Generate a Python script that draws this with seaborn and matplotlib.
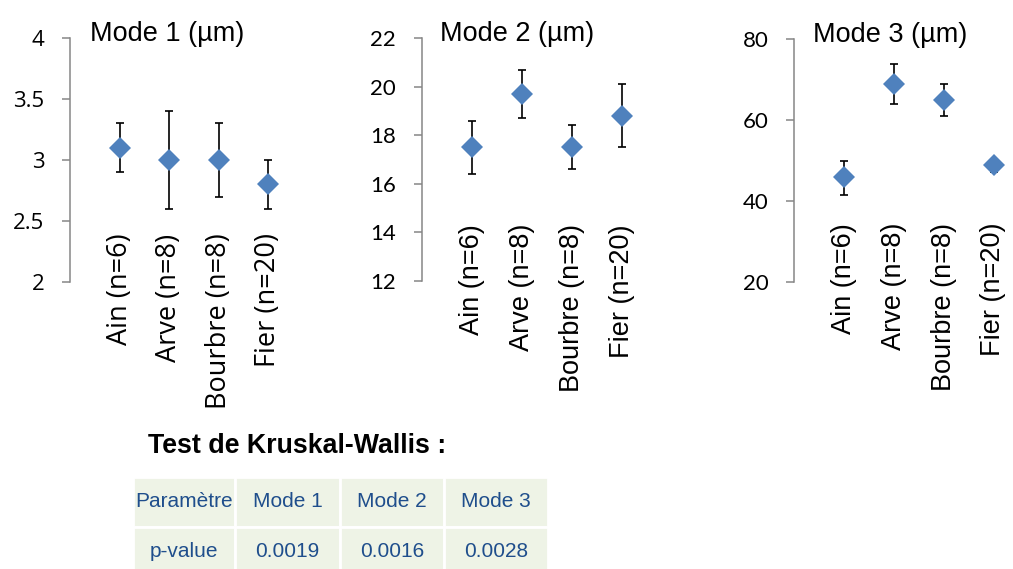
import matplotlib
matplotlib.use("Agg")
import matplotlib.pyplot as plt
import pandas as pd
import seaborn as sns

# --- data -------------------------------------------------------------
rivers = ["Ain (n=6)", "Arve (n=8)", "Bourbre (n=8)", "Fier (n=20)"]

mode1_mean = [3.1, 3.0, 3.0, 2.8]
mode1_low = [2.9, 2.6, 2.7, 2.6]
mode1_high = [3.3, 3.4, 3.3, 3.0]

mode2_mean = [17.5, 19.7, 17.5, 18.8]
mode2_low = [16.4, 18.7, 16.6, 17.5]
mode2_high = [18.6, 20.7, 18.4, 20.1]

mode3_mean = [46, 69, 65, 49]
mode3_low = [41.6, 64, 61, 47.3]
mode3_high = [50, 74, 69, 50]

panel_titles = ["Mode 1 (µm)", "Mode 2 (µm)", "Mode 3 (µm)"]
y_ranges = [(2, 4), (12, 22), (20, 80)]
y_ticks = [[2, 2.5, 3, 3.5, 4], [12, 14, 16, 18, 20, 22], [20, 40, 60, 80]]
y_ticklabels = [["2", "2.5", "3", "3.5", "4"],
                ["12", "14", "16", "18", "20", "22"],
                ["20", "40", "60", "80"]]

test_title = "Test de Kruskal-Wallis :"
table_header = ["Paramètre", "Mode 1", "Mode 2", "Mode 3"]
table_row = ["p-value", "0.0019", "0.0016", "0.0028"]

# --- style ------------------------------------------------------------
sns.set_style("white")
plt.rcParams["font.family"] = ["Liberation Sans", "DejaVu Sans"]
plt.rcParams["text.color"] = "black"

W, H = 1013, 569
fig = plt.figure(figsize=(W / 100, H / 100), dpi=100)

MARKER_BLUE = "#4F81BD"
AXIS_GREY = "#868686"
TABLE_BLUE = "#1F4E8C"
TABLE_BG = "#EEF3E6"

# panel geometry in pixels: left spine x, category spacing, top, bottom
panels = [
    dict(left=70.0, step=49.6, top=38.0, bottom=282.0, label_pad=-35,
         tick_font="Open Sans", cat_font="Open Sans", title_x=167.5, title_y=40.7),
    dict(left=421.7, step=50.0, top=38.0, bottom=281.0, label_pad=-41,
         tick_font="Lato", cat_font="Liberation Sans", title_x=517.5, title_y=40.7),
    dict(left=794.3, step=49.8, top=39.3, bottom=282.0, label_pad=-42.5,
         tick_font="Lato", cat_font="Liberation Sans", title_x=890.5, title_y=42.5),
]
x_lo, x_hi = -1.0, 3.4

series = [
    (mode1_mean, mode1_low, mode1_high),
    (mode2_mean, mode2_low, mode2_high),
    (mode3_mean, mode3_low, mode3_high),
]

for i, (geo, (mean, low, high)) in enumerate(zip(panels, series)):
    width_px = (x_hi - x_lo) * geo["step"]
    ax = fig.add_axes([geo["left"] / W, 1 - geo["bottom"] / H,
                       width_px / W, (geo["bottom"] - geo["top"]) / H])
    df = pd.DataFrame({"river": rivers, "value": mean})

    sns.pointplot(data=df, x="river", y="value", ax=ax, errorbar=None,
                  linestyle="none", marker="D", color=MARKER_BLUE,
                  markersize=11, markeredgewidth=0, zorder=3)

    pos = list(range(len(rivers)))
    yerr = [[m - l for m, l in zip(mean, low)], [h - m for m, h in zip(mean, high)]]
    ax.errorbar(pos, mean, yerr=yerr, fmt="none", ecolor="black",
                elinewidth=1.2, capsize=3.0, capthick=1.2, zorder=2)

    ax.set_xlim(x_lo, x_hi)
    ax.set_ylim(*y_ranges[i])
    ax.set_yticks(y_ticks[i])
    ax.set_yticklabels(y_ticklabels[i], fontsize=16, family=geo["tick_font"])
    ax.set_xlabel("")
    ax.set_ylabel("")

    for side in ("top", "right", "bottom"):
        ax.spines[side].set_visible(False)
    ax.spines["left"].set_color(AXIS_GREY)
    ax.spines["left"].set_linewidth(1.1)

    ax.tick_params(axis="y", left=True, length=6, width=1.1, color=AXIS_GREY,
                   pad=12.5, labelcolor="black")
    ax.tick_params(axis="x", bottom=False, length=0, pad=geo["label_pad"],
                   labelcolor="black")
    ax.set_xticks(pos)
    ax.set_xticklabels(rivers, rotation=90, fontsize=19.5, family=geo["cat_font"],
                       ha="center", va="top", color="black")
    ax.patch.set_alpha(0)

    fig.text(geo["title_x"] / W, 1 - geo["title_y"] / H, panel_titles[i],
             ha="center", va="baseline", fontsize=19.5, color="black")

# --- Kruskal-Wallis summary table ----------------------------------------
fig.text(148 / W, 1 - 453.3 / H, test_title, ha="left", va="baseline",
         fontsize=19.3, fontweight="bold", color="black")

tab_left, tab_right, tab_top, tab_bottom = 133, 548, 477, 577
tax = fig.add_axes([tab_left / W, 1 - tab_bottom / H,
                    (tab_right - tab_left) / W, (tab_bottom - tab_top) / H])
tax.axis("off")
col_px = [102, 105, 104, 104]
col_w = [c / sum(col_px) for c in col_px]
table = tax.table(cellText=[table_header, table_row],
                  cellColours=[[TABLE_BG] * 4, [TABLE_BG] * 4],
                  colWidths=col_w, cellLoc="center", bbox=[0, 0, 1, 1])
table.auto_set_font_size(False)
for cell in table.get_celld().values():
    cell.set_edgecolor("white")
    cell.set_linewidth(2)
    cell.get_text().set_fontsize(15)
    cell.get_text().set_color(TABLE_BLUE)

fig.savefig("out.png", dpi=100)
